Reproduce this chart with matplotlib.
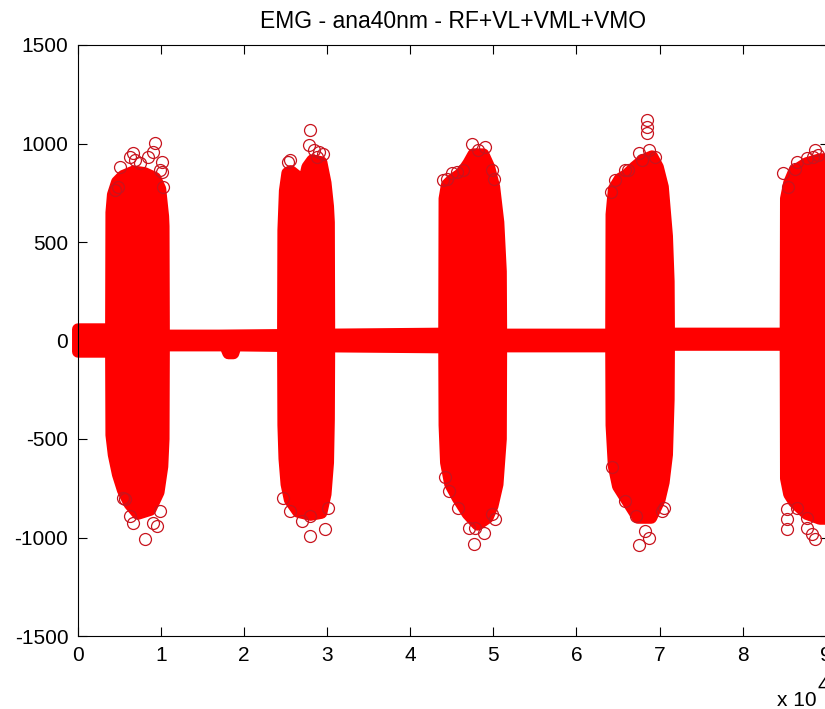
import numpy as np
import matplotlib
matplotlib.use('Agg')
import matplotlib.pyplot as plt

plt.rcParams['font.family'] = ['Liberation Sans', 'DejaVu Sans']
plt.rcParams['axes.unicode_minus'] = False

# EMG envelope (marker centres), sample index vs amplitude
hi_x = [0, 3980,
        4020, 4200, 4700, 5400, 6700, 8000, 9300, 9900, 10250, 10300,
        10340, 17000, 24680,
        24720, 24900, 25200, 25600, 26500, 27200, 27600, 28200, 29300, 29800, 30100, 30200,
        30240, 44080,
        44120, 44400, 45000, 46200, 47000, 47600, 48800, 49500, 50100, 50600, 50900,
        50940, 64180,
        64220, 64500, 65200, 66000, 67000, 68000, 69100, 69800, 70400, 70900, 71100,
        71140, 85180,
        85220, 85600, 86200, 87700, 89300, 91000]
hi_y = [57, 57,
        650, 740, 805, 835, 858, 850, 825, 770, 630, 580,
        25, 25, 28,
        560, 760, 850, 860, 830, 805, 880, 915, 905, 800, 680, 600,
        30, 35,
        720, 790, 815, 850, 900, 945, 945, 880, 780, 600, 350,
        30, 30,
        640, 770, 820, 840, 880, 915, 935, 880, 780, 530, 300,
        35, 35,
        720, 800, 860, 900, 920, 920]

lo_x = [0, 3980,
        4020, 4300, 4800, 5400, 6200, 7200, 8700, 9700, 10150, 10300,
        10340, 17700, 18100, 18700, 19000, 24680,
        24720, 24850, 25100, 25500, 26500, 28000, 29300, 29800, 30100, 30200,
        30240, 44080,
        44120, 44300, 44800, 45700, 46900, 48100, 49300, 49900, 50500, 50900,
        50940, 64180,
        64220, 64500, 65000, 66200, 67400, 69000, 70000, 70500, 70900, 71100,
        71140, 85180,
        85220, 85600, 86200, 87700, 89300, 91000]
lo_y = [-57, -57,
        -480, -580, -680, -760, -830, -880, -860, -770, -640, -500,
        -25, -25, -65, -65, -25, -28,
        -430, -600, -730, -810, -870, -885, -875, -780, -620, -400,
        -30, -35,
        -430, -620, -730, -800, -880, -935, -900, -840, -730, -500,
        -30, -30,
        -430, -640, -740, -820, -900, -900, -810, -720, -580, -300,
        -22, -22,
        -700, -780, -820, -880, -905, -905]

# isolated samples sticking out of each burst
out_x = [5060, 9280, 9070, 6670, 6870, 10080, 9880, 4860, 8070, 6270, 9480, 5660,
         4450, 6260, 7460, 8470, 10070, 10200, 5460, 6660, 9070, 9870,
         27950, 27750, 28950, 25540, 28350, 25540, 27950, 29760, 27950,
         25310, 28730, 29530, 24710, 26920, 30130,
         47430, 49040, 44420, 45630, 50040, 47630, 48840, 47030, 50240, 44620,
         43970, 44980, 46380, 48190, 49790, 44170, 45780, 47780, 49790,
         68520, 68520, 68520, 67510, 65900, 64100, 68720, 67510, 68720, 67110, 70520,
         64640, 66240, 67850, 69450, 64240, 65840, 68250, 70250,
         86300, 88710, 89110, 85500, 87710, 85300, 85300, 85300, 88310, 88710, 87710,
         84900, 86500, 88510, 86500, 87710]
out_y = [880, 1002, 958, 950, 916, 907, 865, 780, -1010, -890, -941, -805,
         763, 932, 900, 932, 856, 780, -797, -924, -924, -865,
         1068, 992, 958, 916, 966, -865, -992, -958, -890,
         907, 932, 949, -797, -916, -848,
         1000, 983, 822, 856, 822, -1034, -975, -950, -907, -763,
         814, 848, 865, 966, 865, -695, -848, -950, -882,
         1119, 1085, 1051, 950, 865, 754, 966, -1040, -1000, -890, -848,
         814, 865, 916, 932, -644, -814, -966, -865,
         873, 966, 941, 780, 924, -855, -905, -956, -983, -1010, -899,
         848, 907, 932, -848, -950]

xticks = [0, 10000, 20000, 30000, 40000, 50000, 60000, 70000, 80000, 90000]
xticklabels = ['0', '1', '2', '3', '4', '5', '6', '7', '8', '9']
yticks = [-1500, -1000, -500, 0, 500, 1000, 1500]

W, H = 825, 709
fig = plt.figure(figsize=(W / 100, H / 100), dpi=100)
fig.patch.set_facecolor('white')
ax = fig.add_axes([78 / W, 1 - 636 / H, (829 - 78) / W, (636 - 45) / H])

# dense body of the signal: polygon stroked as wide as one marker
px = np.concatenate([hi_x, lo_x[::-1]])
py = np.concatenate([hi_y, lo_y[::-1]])
ax.fill(px, py, facecolor='#ff0000', edgecolor='#ff0000', linewidth=8.6,
        joinstyle='round', clip_on=False, zorder=2)
ax.plot(out_x, out_y, linestyle='none', marker='o', markersize=8.6,
        markerfacecolor='none', markeredgecolor='#c8141e', markeredgewidth=0.9,
        zorder=3)

ax.set_xlim(0, 90400)
ax.set_ylim(-1500, 1500)
ax.set_xticks(xticks)
ax.set_xticklabels(xticklabels)
ax.set_yticks(yticks)
ax.set_yticklabels([str(v) for v in yticks])
ax.tick_params(direction='in', length=6.5, width=0.8, top=True, right=True,
               labelsize=15, colors='black')
ax.tick_params(axis='x', pad=7)
ax.tick_params(axis='y', pad=7)
for s in ax.spines.values():
    s.set_linewidth(0.8)
    s.set_color('black')

ax.set_title('EMG - ana40nm - RF+VL+VML+VMO', fontsize=16.5, pad=12)

# axis multiplier below the last x tick
fig.text(777 / W, 1 - 706 / H, 'x 10', fontsize=15, ha='left', va='baseline')
fig.text(817 / W, 1 - 691 / H, '4', fontsize=15, ha='left', va='baseline')

fig.savefig('out.png', dpi=100)
